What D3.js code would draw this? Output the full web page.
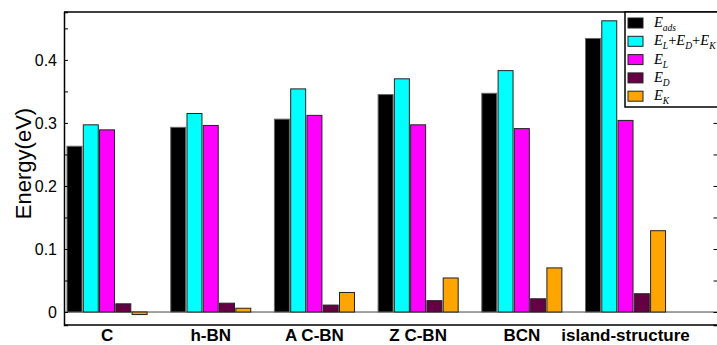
<!DOCTYPE html>
<html>
<head>
<meta charset="utf-8">
<script src="https://cdn.jsdelivr.net/npm/d3@7"></script>
<style>
  body { margin: 0; background: #fff; }
  svg { display: block; }
</style>
</head>
<body>
<div class="viz"></div>
<script>
// structures on the x axis
const categories = ['C', 'h-BN', 'A C-BN', 'Z C-BN', 'BCN', 'island-structure']
// one array per energy term (eV)
const eAds = [0.263, 0.293, 0.306, 0.345, 0.347, 0.434]
const eSum = [0.297, 0.315, 0.354, 0.370, 0.383, 0.462]
const eL = [0.289, 0.296, 0.312, 0.297, 0.291, 0.304]
const eD = [0.013, 0.014, 0.011, 0.018, 0.021, 0.029]
const eK = [-0.004, 0.006, 0.031, 0.054, 0.070, 0.129]
const yTicks = [0, 0.1, 0.2, 0.3, 0.4]

const seriesKeys = ['ads', 'sum', 'L', 'D', 'K']
const seriesValues = [eAds, eSum, eL, eD, eK]
const seriesColors = d3.scaleOrdinal().domain(seriesKeys)
  .range(['#000000', '#00ffff', '#ff00ff', '#660044', '#ffa500'])

const W = 717, H = 345
const pLeft = 64, pRight = 717.5, pTop = 12, pBottom = 325

const svg = d3.select('.viz').append('svg')
  .attr('width', W).attr('height', H)
  .style('font-family', 'Liberation Sans, Arial, sans-serif')

const x = d3.scaleBand().domain(categories)
  .range([pLeft, pRight])
  .paddingInner(0.228).paddingOuter(0.265).align(0.055)
const xs = d3.scaleBand().domain(seriesKeys)
  .range([0, x.bandwidth()]).paddingInner(0.08)
const y = d3.scaleLinear().domain([-0.0206, 0.476]).range([pBottom, pTop])

// one row per category, one cell per series
const barData = []
categories.forEach((c, i) => {
  seriesKeys.forEach((k, j) => {
    barData.push({ cat: c, key: k, value: seriesValues[j][i] })
  })
})

// zero line
svg.append('line')
  .attr('x1', pLeft).attr('x2', pRight)
  .attr('y1', y(0)).attr('y2', y(0))
  .attr('stroke', '#444').attr('stroke-width', 1)

svg.append('g').selectAll('rect')
  .data(barData).enter().append('rect')
  .attr('x', d => x(d.cat) + xs(d.key))
  .attr('width', xs.bandwidth())
  .attr('y', d => y(Math.max(0, d.value)))
  .attr('height', d => Math.abs(y(d.value) - y(0)))
  .attr('fill', d => seriesColors(d.key))
  .attr('stroke', d => d.key === 'ads' ? '#666' : '#222')
  .attr('stroke-width', 1)

// frame
svg.append('line').attr('x1', pLeft).attr('x2', pRight).attr('y1', pTop).attr('y2', pTop)
  .attr('stroke', '#000').attr('stroke-width', 1.5)
svg.append('line').attr('x1', pLeft).attr('x2', pRight).attr('y1', pBottom).attr('y2', pBottom)
  .attr('stroke', '#000').attr('stroke-width', 1.5)

const minorTicks = d3.range(0.05, 0.46, 0.1)

const yAxis = svg.append('g')
  .attr('transform', `translate(${pLeft},0)`)
  .call(d3.axisLeft(y).tickValues(yTicks).tickFormat(d3.format('')).tickSize(-4).tickPadding(7))
yAxis.select('.domain').attr('stroke-width', 1.5)
yAxis.selectAll('text').style('font-size', '16px').attr('fill', '#000')

svg.append('g')
  .attr('transform', `translate(${pLeft},0)`)
  .call(d3.axisLeft(y).tickValues(minorTicks).tickSize(-4))
  .call(g => g.select('.domain').remove())
  .call(g => g.selectAll('text').remove())

const yRight = svg.append('g')
  .attr('transform', `translate(${pRight},0)`)
  .call(d3.axisRight(y).tickValues(yTicks.concat(minorTicks)).tickSize(-4))
yRight.selectAll('text').remove()
yRight.select('.domain').attr('stroke-width', 1.5)

// category labels
svg.append('g').selectAll('text')
  .data(categories).enter().append('text')
  .attr('x', d => x(d) + x.bandwidth() / 2)
  .attr('y', 341)
  .attr('text-anchor', 'middle')
  .style('font-size', '17px')
  .style('font-weight', 'bold')
  .text(d => d)

svg.append('text')
  .attr('transform', `translate(31, ${(pTop + pBottom) / 2 - 5}) rotate(-90)`)
  .attr('text-anchor', 'middle')
  .style('font-size', '22px')
  .text('Energy(eV)')

// legend
svg.append('rect')
  .attr('x', 625).attr('y', pTop).attr('width', 100).attr('height', 95)
  .attr('fill', '#fff').attr('stroke', '#000').attr('stroke-width', 1.5)
const legend = svg.append('g')

const legendLabels = [
  [['E', 'ads']],
  [['E', 'L'], ['+'], ['E', 'D'], ['+'], ['E', 'K']],
  [['E', 'L']],
  [['E', 'D']],
  [['E', 'K']]
]

const rows = legend.selectAll('g')
  .data(seriesKeys).enter().append('g')
  .attr('transform', (d, i) => `translate(628, ${23 + i * 18.3})`)

rows.append('rect')
  .attr('x', 0).attr('y', -5).attr('width', 15).attr('height', 10)
  .attr('fill', d => seriesColors(d))
  .attr('stroke', '#222').attr('stroke-width', 1)

rows.append('text')
  .attr('x', 26).attr('y', 4)
  .style('font-family', 'Liberation Serif, Times New Roman, serif')
  .style('font-size', '14.5px')
  .each(function(d, i) {
    const t = d3.select(this)
    let shift = 0
    legendLabels[i].forEach(part => {
      const main = t.append('tspan').attr('dy', -shift).text(part[0])
      shift = 0
      if (part.length === 1) {
        main.style('font-style', 'normal')
      } else {
        main.style('font-style', 'italic')
        t.append('tspan').attr('dy', 4)
          .style('font-style', 'italic').style('font-size', '9.5px').text(part[1])
        shift = 4
      }
    })
  })
</script>
</body>
</html>
